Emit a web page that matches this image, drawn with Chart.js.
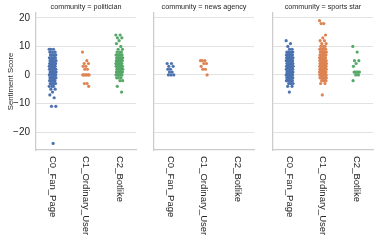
<!DOCTYPE html>
<html>
<head>
<meta charset="utf-8">
<script src="https://cdn.jsdelivr.net/npm/chart.js@4.4.0/dist/chart.umd.min.js"></script>
<style>
  html, body { margin: 0; padding: 0; background: #fff; }
  #wrap { position: relative; width: 382px; height: 249px; overflow: hidden; }
  canvas { position: absolute; top: 0; }
</style>
</head>
<body>
<div id="wrap">
  <canvas id="p0"></canvas>
  <canvas id="p1"></canvas>
  <canvas id="p2"></canvas>
</div>
<script>
// ---- data ----
const categories = ["C0_Fan_Page", "C1_Ordinary_User", "C2_Botlike"];
const communities = ["politician", "news agency", "sports star"];
const yTicks = [20, 10, 0, -10, -20];

// [score, number of accounts at that score]
const politicianFan = [[9,3],[8,3],[7,5],[6,6],[5,7],[4,8],[3,9],[2,9],[1,9],[0,10],[-1,8],[-2,6],[-3,5],[-4,3],[-5,2],[-6,1],[-7,1],[-8,1],[-11,2],[-24,1]];
const politicianUser = [[8,1],[5,1],[4,2],[3,2],[2,2],[0,6],[-3,2],[-4,1]];
const politicianBot = [[14,2],[13,2],[12,1],[11,1],[10,1],[9,2],[8,3],[7,6],[6,7],[5,8],[4,8],[3,9],[2,8],[1,8],[0,7],[-1,3],[-2,2],[-4,1],[-6,1]];

const newsFan = [[4,2],[3,2],[2,2],[1,2],[0,3]];
const newsUser = [[5,3],[4,2],[3,1],[2,2],[0,1]];
const newsBot = [];

const sportsFan = [[12,1],[11,1],[10,1],[9,2],[8,5],[7,8],[6,9],[5,10],[4,10],[3,11],[2,11],[1,12],[0,12],[-1,9],[-2,6],[-3,4],[-4,2],[-6,1]];
const sportsUser = [[19,1],[18,2],[14,1],[13,1],[12,2],[11,2],[10,3],[9,5],[8,6],[7,8],[6,9],[5,10],[4,11],[3,11],[2,12],[1,12],[0,12],[-1,8],[-2,4],[-3,2],[-7,1]];
const sportsBot = [[10,1],[8,1],[5,2],[4,1],[3,1],[1,5],[0,2],[-2,1]];

const panelData = [
  [politicianFan, politicianUser, politicianBot],
  [newsFan, newsUser, newsBot],
  [sportsFan, sportsUser, sportsBot]
];

// ---- style ----
const colors = ["#4c72b0", "#dd8452", "#55a868"];
const FONT = '"Liberation Sans", Arial, sans-serif';
const TEXT = "#262626";
const panelLeft = [0, 140, 259];
const axisWidth = [36, 14, 14];

// strip jitter: fixed golden-ratio spread, not data
function jitter(i) {
  return (((i * 0.6180339887) % 1) - 0.5) * 0.21;
}

function expand(pairs, cat) {
  const pts = [];
  let i = 0;
  for (const [score, n] of pairs) {
    for (let k = 0; k < n; k++) {
      pts.push({ x: cat + jitter(i), y: score });
      i++;
    }
  }
  return pts;
}

const facetLabels = {
  id: "facetLabels",
  afterDraw(chart, args, opts) {
    const { ctx, chartArea, scales } = chart;
    ctx.save();
    ctx.fillStyle = TEXT;
    ctx.font = "7.2px " + FONT;
    ctx.textAlign = "center";
    ctx.textBaseline = "middle";
    ctx.fillText("community = " + opts.title, (chartArea.left + chartArea.right) / 2, 7);

    ctx.font = "9.5px " + FONT;
    ctx.textAlign = "left";
    categories.forEach((c, i) => {
      const x = scales.x.getPixelForValue(i);
      ctx.save();
      ctx.translate(x, chartArea.bottom + 6);
      ctx.rotate(Math.PI / 2);
      ctx.fillText(c, 0, 0);
      ctx.restore();
    });
    ctx.restore();
  }
};

function makePanel(idx) {
  const canvas = document.getElementById("p" + idx);
  const w = axisWidth[idx] + 104;
  canvas.width = w;
  canvas.height = 249;
  canvas.style.left = panelLeft[idx] + "px";
  canvas.style.width = w + "px";
  canvas.style.height = "249px";

  new Chart(canvas, {
    type: "scatter",
    data: {
      datasets: panelData[idx].map((g, c) => ({
        data: expand(g, c),
        backgroundColor: colors[c],
        borderWidth: 0,
        pointRadius: 1.6,
        pointHoverRadius: 1.6
      }))
    },
    options: {
      responsive: false,
      animation: false,
      devicePixelRatio: 1,
      layout: { padding: { top: 13, right: 4, left: 0, bottom: 0 } },
      plugins: {
        legend: { display: false },
        tooltip: { enabled: false },
        facetLabels: { title: communities[idx] }
      },
      scales: {
        x: {
          type: "linear",
          min: -0.5,
          max: 2.5,
          grid: { display: false },
          border: { display: true, color: "#cccccc", width: 1.25 },
          ticks: { display: false },
          afterFit: s => { s.height = 99; }
        },
        y: {
          min: -26.3,
          max: 21.7,
          afterBuildTicks: s => { s.ticks = yTicks.map(v => ({ value: v })); },
          grid: { color: "#e2e2e2", lineWidth: 1, drawTicks: false },
          border: { color: "#cccccc", width: 1.25 },
          ticks: {
            display: idx === 0,
            padding: 6,
            color: TEXT,
            font: { size: 10, family: FONT },
            callback: v => String(v).replace("-", "\u2212")
          },
          title: {
            display: idx === 0,
            text: "Sentiment Score",
            color: TEXT,
            font: { size: 7.8, family: FONT },
            padding: { top: 6, bottom: 0 }
          },
          afterFit: s => { s.width = axisWidth[idx]; }
        }
      }
    },
    plugins: [facetLabels]
  });
}

[0, 1, 2].forEach(makePanel);
</script>
</body>
</html>
